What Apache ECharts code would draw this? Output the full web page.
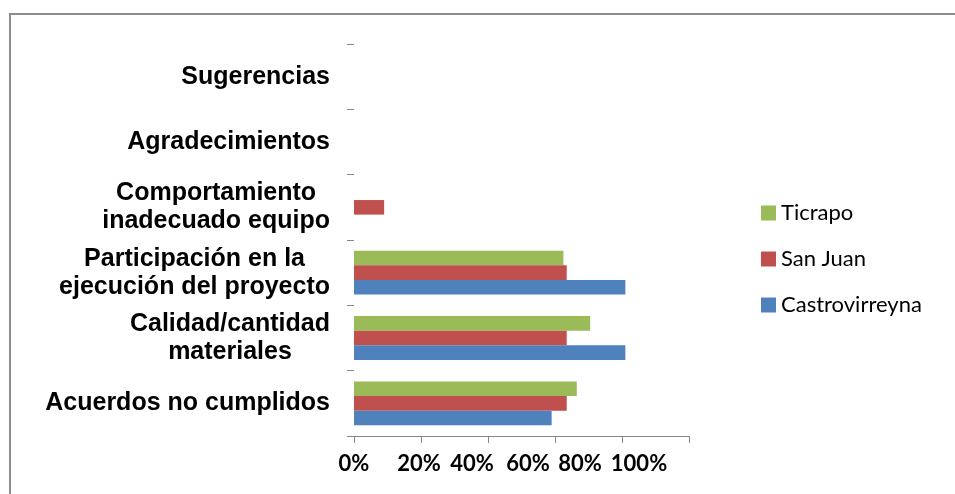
<!DOCTYPE html>
<html>
<head>
<meta charset="utf-8">
<script src="https://cdn.jsdelivr.net/npm/echarts@6/dist/echarts.min.js"></script>
<style>
  html, body { margin: 0; padding: 0; background: #fff; overflow: hidden; }
  #frame {
    position: absolute; left: 9px; top: 13px; width: 960px; height: 500px;
    border-left: 2px solid #8c8c8c; border-top: 2px solid #8c8c8c;
  }
  #chart { position: absolute; left: 0; top: 0; width: 955px; height: 494px; }
</style>
</head>
<body>
<div id="frame"></div>
<div id="chart"></div>
<script>
// categories, bottom to top
var categories = [
  "Acuerdos no cumplidos",
  "Calidad/cantidad\nmateriales",
  "Participación en la\nejecución del proyecto",
  "Comportamiento\ninadecuado equipo",
  "Agradecimientos",
  "Sugerencias"
];
var castrovirreyna = [59, 81, 81, 0, 0, 0];
var sanJuan = [63.5, 63.5, 63.5, 9, 0, 0];
var ticrapo = [66.5, 70.5, 62.5, 0, 0, 0];
var xTickLabels = ["0%", "20%", "40%", "60%", "80%", "100%"];

// labels in the picture are squeezed left of their ticks
var labelShift = [0, -2, -16, -27, -42, -50];

var myChart = echarts.init(document.getElementById("chart"));

var xRich = {};
labelShift.forEach(function (s, i) {
  xRich["t" + i] = {
    fontFamily: "Lato",
    fontSize: 22,
    fontWeight: "bold",
    color: "#000",
    padding: [0, -2 * s, 0, 0]
  };
});

var option = {
  animation: false,
  // series go top to bottom inside a group, so Ticrapo comes first
  color: ["#9BBB59", "#C0504D", "#4F81BD"],
  grid: {
    left: 354,
    right: 266,
    top: 44,
    bottom: 58
  },
  legend: {
    orient: "vertical",
    left: 761,
    top: 202,
    padding: 0,
    itemWidth: 15,
    itemHeight: 15,
    itemGap: 24,
    icon: "rect",
    data: ["Ticrapo", "San Juan", "Castrovirreyna"],
    textStyle: {
      fontFamily: "Lato",
      fontSize: 22,
      color: "#000"
    }
  },
  xAxis: {
    type: "value",
    min: 0,
    max: 100,
    interval: 20,
    axisLine: { show: true, lineStyle: { color: "#868686", width: 1 } },
    axisTick: { show: true, length: 7, lineStyle: { color: "#868686" } },
    splitLine: { show: false },
    axisLabel: {
      margin: 17,
      formatter: function (v) {
        var i = Math.round(v / 20);
        return "{t" + i + "|" + xTickLabels[i] + "}";
      },
      rich: xRich
    }
  },
  yAxis: {
    type: "category",
    data: categories,
    axisLine: { show: false },
    axisTick: { show: true, length: 7, lineStyle: { color: "#868686" } },
    axisLabel: {
      margin: 24,
      align: "right",
      formatter: function (v) {
        return v.split("\n").map(function (l) {
          return "{c|" + l + "}";
        }).join("\n");
      },
      rich: {
        c: {
          fontFamily: "Liberation Sans",
          fontSize: 25,
          fontWeight: "bold",
          color: "#000",
          lineHeight: 28,
          align: "center"
        }
      }
    }
  },
  series: [
    {
      name: "Ticrapo",
      type: "bar",
      data: ticrapo,
      barGap: "0%",
      barCategoryGap: "33%"
    },
    {
      name: "San Juan",
      type: "bar",
      data: sanJuan,
      barGap: "0%",
      barCategoryGap: "33%"
    },
    {
      name: "Castrovirreyna",
      type: "bar",
      data: castrovirreyna,
      barGap: "0%",
      barCategoryGap: "33%"
    }
  ]
};
option && myChart.setOption(option);
</script>
</body>
</html>
